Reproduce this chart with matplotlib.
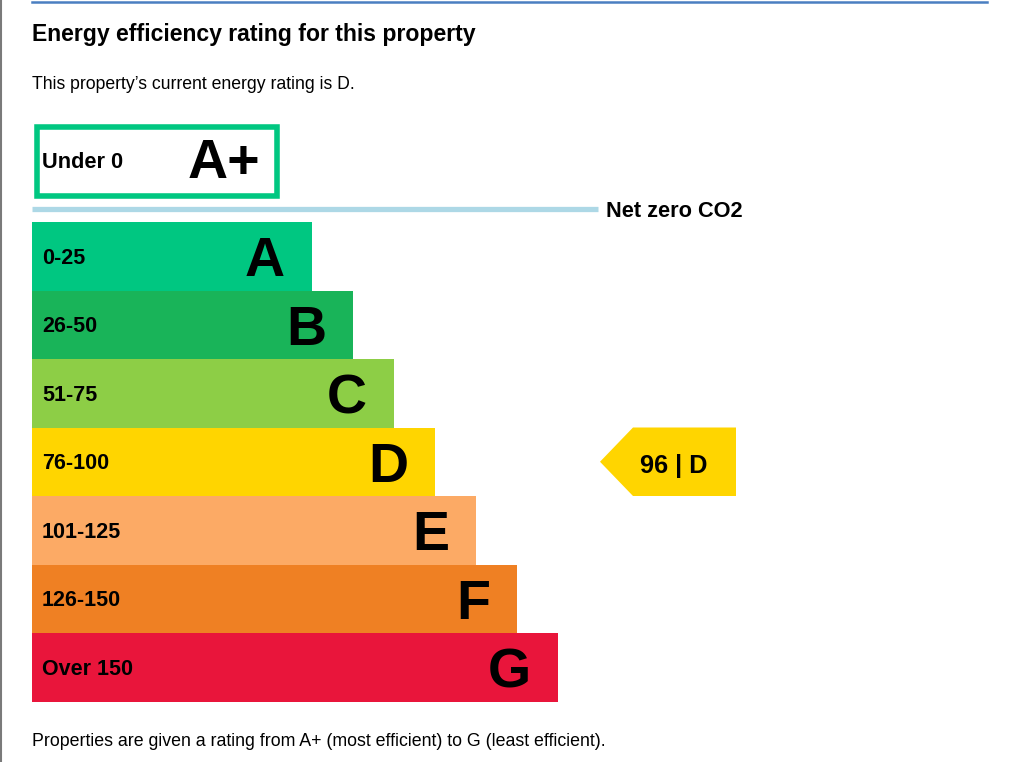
import matplotlib.pyplot as plt
from matplotlib.patches import Rectangle, Polygon

plt.rcParams['font.family'] = ['Liberation Sans', 'DejaVu Sans']

# band data
letters = ["A", "B", "C", "D", "E", "F", "G"]
ranges = ["0-25", "26-50", "51-75", "76-100", "101-125", "126-150", "Over 150"]
bar_len = [280, 321, 362, 403, 444, 485, 526]
colors = ["#00c781", "#19b459", "#8dce46", "#ffd500", "#fcaa65", "#ef8023", "#e9153b"]

current_score = 96
current_band = "D"

title = "Energy efficiency rating for this property"
subtitle = "This property\u2019s current energy rating is D."
footer = "Properties are given a rating from A+ (most efficient) to G (least efficient)."


def cap(size):
    # cap height in pixels for a font size in points (Liberation Sans)
    return 0.69 * size * 100 / 72


def label(ax, x, yc, s, size, ha="left", bold=True):
    # put text so that its capitals are centred on yc
    ax.text(x, yc + cap(size) / 2, s, fontsize=size, ha=ha, va="baseline",
            fontweight="bold" if bold else "normal")


def main():
    fig = plt.figure(figsize=(10.09, 7.62), dpi=100)
    ax = fig.add_axes([0, 0, 1, 1])
    ax.set_xlim(0, 1009)
    ax.set_ylim(762, 0)
    ax.axis("off")

    # page frame lines
    ax.plot([1, 1], [0, 762], color="#7a7a7a", lw=1.5)
    ax.plot([32, 987], [1.5, 1.5], color="#4a7fc1", lw=1.8)

    ax.text(32, 41, title, fontsize=16.6, fontweight="bold", va="baseline")
    ax.text(32, 89, subtitle, fontsize=12.7, va="baseline")

    # A+ box
    ax.add_patch(Rectangle((37, 126.5), 239.5, 69, fill=False, ec="#00c781", lw=4))
    label(ax, 42, 160, "Under 0", 15.7)
    label(ax, 260, 159, "A+", 40, ha="right")

    # net zero line
    ax.plot([32, 598], [209, 209], color="#add8e6", lw=3.8, solid_capstyle="butt")
    label(ax, 606, 209, "Net zero CO2", 15.7)

    # rating bars
    top, h = 222, 68.5
    ys = [top + i * h + h / 2 for i in range(len(letters))]
    ax.barh(ys, bar_len, height=h, left=32, color=colors, linewidth=0)
    for y, r, L, w in zip(ys, ranges, letters, bar_len):
        label(ax, 42, y, r, 15.5)
        label(ax, 32 + w - 27, y + 1, L, 40, ha="right")

    # current rating arrow
    i = letters.index(current_band)
    yc = ys[i]
    y0, y1 = yc - h / 2, yc + h / 2
    ax.add_patch(Polygon([(600, yc), (633, y0), (736, y0), (736, y1), (633, y1)],
                         closed=True, fc=colors[i], ec="none"))
    label(ax, 674, yc + 2, f"{current_score} | {current_band}", 18.3, ha="center")

    ax.text(32, 746, footer, fontsize=12.75, va="baseline")

    fig.savefig("out.png", dpi=100)


if __name__ == "__main__":
    main()
